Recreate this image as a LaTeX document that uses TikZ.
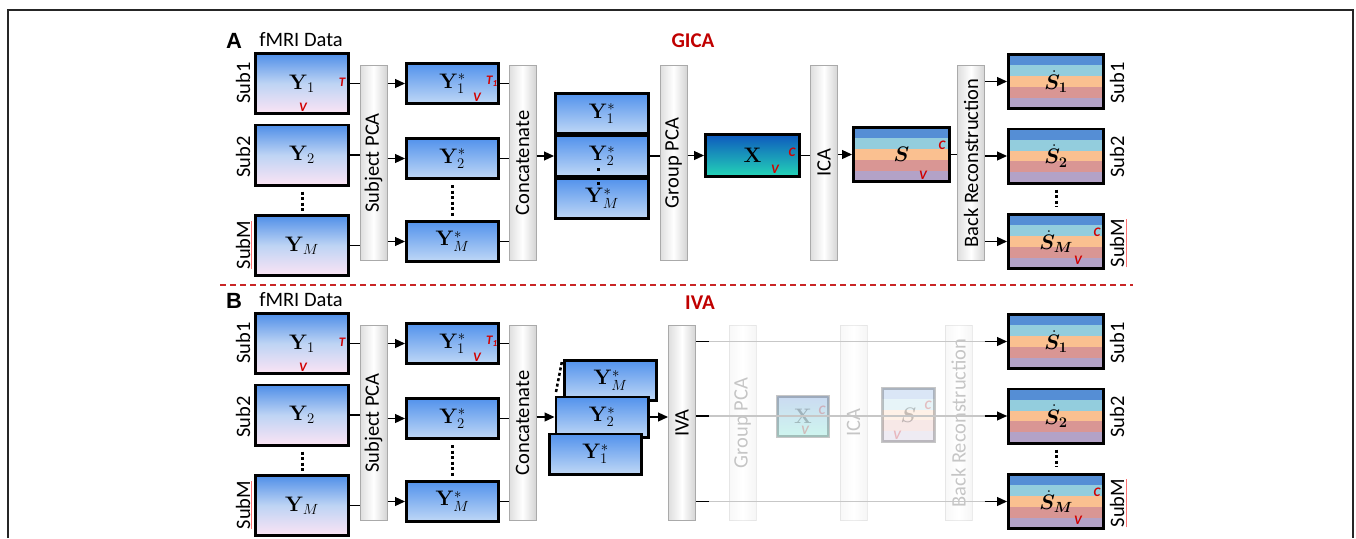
\RequirePackage{fix-cm}
\documentclass[tikz,border=0pt]{standalone}
\usepackage{amsmath}
\usepackage{bm}
\usepackage[no-math]{fontspec}
\setmainfont{Carlito}
\newfontfamily\panelfont{Liberation Sans}
\usetikzlibrary{arrows.meta,calc}
\definecolor{myred}{RGB}{192,0,0}
\definecolor{labred}{RGB}{210,0,0}
\definecolor{yTop}{RGB}{78,142,232}
\definecolor{yMid}{RGB}{190,212,244}
\definecolor{yPink}{RGB}{252,228,244}
\definecolor{ysTop}{RGB}{82,146,236}
\definecolor{ysBot}{RGB}{192,216,246}
\definecolor{xTop}{RGB}{14,88,190}
\definecolor{xBot}{RGB}{36,214,182}
\definecolor{sA}{RGB}{85,142,213}
\definecolor{sB}{RGB}{147,205,221}
\definecolor{sC}{RGB}{250,192,144}
\definecolor{sD}{RGB}{217,150,148}
\definecolor{sE}{RGB}{179,162,199}
\definecolor{barL}{RGB}{222,222,222}
\definecolor{barR}{RGB}{212,212,212}
\definecolor{barE}{RGB}{170,170,170}
\begin{document}
\begin{tikzpicture}[x=1pt,y=-1pt,
  every node/.style={inner sep=0pt},
  frame/.style={draw=black!85,line width=1.5pt},
  sepline/.style={draw=myred!85,line width=1.3pt,dash pattern=on 6pt off 4pt},
  conn/.style={line width=1.2pt},
  arr/.style={line width=1.2pt,-{Triangle[length=10pt,width=9pt]}},
  grayline/.style={line width=1.2pt,draw=black!22},
  bar/.style={draw=barE,line width=1pt,left color=barL,right color=barR,middle color=white,minimum width=27pt,minimum height=195pt},
  bartext/.style={rotate=90,font=\fontsize{20.5}{24}\selectfont},
  subl/.style={rotate=90,font=\fontsize{20.5}{24}\selectfont},
  heading/.style={font=\fontsize{20.5}{24}\selectfont},
  panel/.style={font=\panelfont\bfseries\fontsize{22}{26}\selectfont},
  title/.style={text=myred,font=\fontsize{21}{24}\selectfont\bfseries},
  redlab/.style={text=labred,font=\fontsize{13}{14}\selectfont\bfseries\itshape},
  mbox/.style={draw=black,line width=2.6pt,font=\fontsize{21}{24}\selectfont},
  ybox/.style={mbox,top color=yTop,bottom color=yPink,middle color=yMid,minimum width=93.4pt,minimum height=60.4pt},
  ysbox/.style={mbox,top color=ysTop,bottom color=ysBot,minimum width=92.4pt,minimum height=40.4pt},
  xbox/.style={mbox,top color=xTop,bottom color=xBot},
  sbox/.style={mbox,path picture={
    \foreach \col [count=\i] in {sA,sB,sC,sD,sE}{
      \fill[\col] ($(path picture bounding box.north west)!{(\i-1)/5}!(path picture bounding box.south west)$)
        rectangle ($(path picture bounding box.north east)!{\i/5}!(path picture bounding box.south east)$);
    }}},
  sdot/.style={sbox,minimum width=95.4pt,minimum height=54.4pt},
  vdots/.style={line width=3pt,dash pattern=on 3pt off 2.5pt},
  spell/.style={draw=red!55,line width=0.8pt},
]
\useasboundingbox (0,0) rectangle (1356,538);
\draw[frame] (8,538) -- (8,10) -- (1353,10) -- (1353,538);
\coordinate (sepL) at (220,285);
\coordinate (sepR) at (1133,285);
\draw[sepline] (sepL) -- (sepR);

\node[title] (a-title) at (693,41) {GICA};
\node[title] (b-title) at (700,303) {IVA};

\foreach \p/\d/\L in {a/0/A,b/260/B}{
  \node[panel] (\p-panel) at (234,41+\d) {\L};
  \node[heading] (\p-head) at (301,40+\d) {fMRI Data};
  \node[ybox] (\p-y1) at (302,83.5+\d) {$\mathbf{Y}_1$};
  \node[ybox] (\p-y2) at (302,155+\d) {$\mathbf{Y}_2$};
  \node[ybox] (\p-ym) at (302,245.5+\d) {$\mathbf{Y}_M$};
  \node[redlab] (\p-y1t) at (342,82+\d) {T};
  \node[redlab] (\p-y1v) at (303,107+\d) {V};
  \node[subl] (\p-sub1) at (243,83+\d) {Sub1};
  \node[subl] (\p-sub2) at (243,157+\d) {Sub2};
  \node[subl] (\p-subm) at (243,245+\d) {SubM};
  \draw[spell] ($(\p-subm.south west)+(1.5,0)$) -- ($(\p-subm.south east)+(1.5,0)$);
  \draw[vdots] ($(\p-y2.south)+(0,5)$) -- ($(\p-ym.north)+(0,-3)$);
  \node[bar] (\p-spca) at (373.5,163+\d) {};
  \node[bartext] (\p-spcat) at (\p-spca) {Subject PCA};
  \node[ysbox] (\p-ys1) at (452.5,83.5+\d) {$\mathbf{Y}_1^{*}$};
  \node[ysbox] (\p-ys2) at (452.5,158.5+\d) {$\mathbf{Y}_2^{*}$};
  \node[ysbox] (\p-ysm) at (452.5,241.5+\d) {$\mathbf{Y}_M^{*}$};
  \node[redlab] (\p-ys1t) at (492,81+\d) {T\textsubscript{1}};
  \node[redlab] (\p-ys1v) at (477,97+\d) {V};
  \draw[vdots] ($(\p-ys2.south)+(0,5)$) -- ($(\p-ysm.north)+(0,-3)$);
  \node[bar] (\p-cat) at (522.5,163+\d) {};
  \node[bartext] (\p-catt) at (\p-cat) {Concatenate};
  \foreach \r in {1,2,m}{
    \draw[conn] (\p-y\r.east) -- (\p-y\r.east -| \p-spca.west);
    \draw[arr] (\p-ys\r.west -| \p-spca.east) -- (\p-ys\r.west);
    \draw[conn] (\p-ys\r.east) -- (\p-ys\r.east -| \p-cat.west);
  }
  \node[sdot] (\p-s1) at (1056,81.5+\d) {$\dot{\bm S}_{\mathbf 1}$};
  \node[sdot] (\p-s2) at (1056,156+\d) {$\dot{\bm S}_{\mathbf 2}$};
  \node[sdot] (\p-sm) at (1056,241.5+\d) {$\dot{\bm S}_{\bm M}$};
  \node[redlab] (\p-smc) at (1097,232+\d) {C};
  \node[redlab] (\p-smv) at (1078,260+\d) {V};
  \draw[vdots] ($(\p-s2.south)+(0,5)$) -- ($(\p-sm.north)+(0,-6)$);
  \node[subl] (\p-rsub1) at (1117,83+\d) {Sub1};
  \node[subl] (\p-rsub2) at (1117,157+\d) {Sub2};
  \node[subl] (\p-rsubm) at (1117,243+\d) {SubM};
  \draw[spell] ($(\p-rsubm.south west)+(1.5,0)$) -- ($(\p-rsubm.south east)+(1.5,0)$);
}

% ---------- A: GICA ----------
\node[ysbox,minimum width=93.4pt] (a-st1) at (602,113.5) {$\mathbf{Y}_1^{*}$};
\node[ysbox,minimum width=93.4pt] (a-st2) at (602,156) {$\mathbf{Y}_2^{*}$};
\node[ysbox,minimum width=93.4pt] (a-st3) at (602,198.5) {$\mathbf{Y}_M^{*}$};
\fill (596.5,167.5) rectangle (599.5,170.5);
\fill (596.5,181.5) rectangle (599.5,184.5);
\draw[arr] (a-st2.west -| a-cat.east) -- (a-st2.west);
\node[bar] (a-gpca) at (673.5,163) {};
\node[bartext] (a-gpcat) at (a-gpca) {Group PCA};
\draw[conn] (a-st2.east) -- (a-st2.east -| a-gpca.west);
\node[xbox,minimum width=94.4pt,minimum height=42.4pt] (a-x) at (752.5,155.5) {$\mathbf{X}$};
\node[redlab] (a-xc) at (792,152) {C};
\node[redlab] (a-xv) at (775,169) {V};
\draw[arr] (a-x.west -| a-gpca.east) -- (a-x.west);
\node[bar] (a-ica) at (824,163) {};
\node[bartext] (a-icat) at (a-ica) {ICA};
\draw[conn] (a-x.east) -- (a-x.east -| a-ica.west);
\node[sbox,minimum width=96.4pt,minimum height=54.4pt] (a-s) at (901.5,154.5) {$\bm{S}$};
\node[redlab] (a-sc) at (942,145) {C};
\node[redlab] (a-sv) at (923,175) {V};
\draw[arr] (a-s.west -| a-ica.east) -- (a-s.west);
\node[bar] (a-br) at (971,163) {};
\node[bartext] (a-brt) at (a-br) {Back Reconstruction};
\draw[conn] (a-s.east) -- (a-s.east -| a-br.west);
\foreach \r in {1,2,m}{
  \draw[arr] (a-s\r.west -| a-br.east) -- (a-s\r.west);
}

% ---------- B: IVA ----------
\draw[vdots,line width=2.5pt] (556,392) -- (562,361);
\node[ysbox] (b-st3) at (610.5,380.5) {$\mathbf{Y}_M^{*}$};
\node[ysbox] (b-st2) at (602,417) {$\mathbf{Y}_2^{*}$};
\node[ysbox] (b-st1) at (595.5,454) {$\mathbf{Y}_1^{*}$};
\draw[arr] (b-st2.west -| b-cat.east) -- (b-st2.west);
\node[bar] (b-iva) at (682,423) {};
\node[bartext] (b-ivat) at (b-iva) {IVA};
\draw[arr] (b-st2.east) -- (b-st2.east -| b-iva.west);
\begin{scope}[opacity=0.22]
  \node[bar] (b-gpca) at (742.5,423) {};
  \node[bartext] (b-gpcat) at (b-gpca) {Group PCA};
  \node[xbox,minimum width=51.4pt,minimum height=40.4pt] (b-x) at (803,416.5) {$\mathbf{X}$};
  \node[redlab] (b-xc) at (822,410) {C};
  \node[redlab] (b-xv) at (805,430) {V};
  \node[bar] (b-ica) at (853.5,423) {};
  \node[bartext] (b-icat) at (b-ica) {ICA};
  \node[sbox,minimum width=52.4pt,minimum height=53.4pt] (b-s) at (908.5,415) {$\bm{S}$};
  \node[redlab] (b-sc) at (928,405) {C};
  \node[redlab] (b-sv) at (897,435) {V};
  \node[bar] (b-br) at (958.5,423) {};
  \node[bartext] (b-brt) at (b-br) {Back Reconstruction};
\end{scope}
\foreach \r in {1,2,m}{
  \draw[grayline] (b-s\r.west -| b-iva.east) -- (b-s\r.west);
  \draw[conn] (b-s\r.west -| b-iva.east) -- ++(13,0);
  \draw[arr] ($(b-s\r.west -| b-br.east)+(12,0)$) -- (b-s\r.west);
}
\end{tikzpicture}
\end{document}
